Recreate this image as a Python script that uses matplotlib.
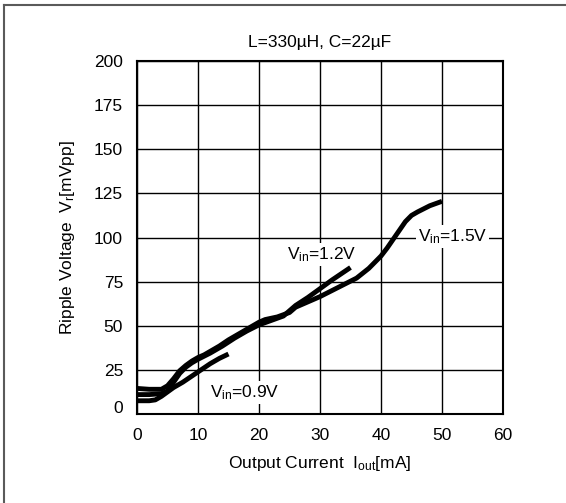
import numpy as np
import matplotlib
matplotlib.use("Agg")
import matplotlib.pyplot as plt
import matplotlib.transforms as mtrans
from matplotlib.lines import Line2D

plt.rcParams['font.family'] = ['Liberation Sans', 'DejaVu Sans']
plt.rcParams['mathtext.fontset'] = 'custom'
plt.rcParams['mathtext.rm'] = 'Liberation Sans'
plt.rcParams['mathtext.it'] = 'Liberation Sans:italic'

# ripple voltage vs output current
x_09 = [0, 1, 2, 3, 4, 5, 6, 7.5, 9, 10.5, 12, 13.5, 15]
y_09 = [7.5, 7.5, 7.5, 8, 10, 12.5, 15, 18, 21.5, 25, 28.5, 31.5, 34]

x_12 = [0, 2, 4, 5, 6, 7, 8, 9, 10, 12, 14, 16, 18, 20, 22, 24, 26, 28, 30, 32, 35]
y_12 = [11, 11, 11.5, 13, 18, 23, 26.5, 29, 31, 34.5, 38.5, 43, 47, 50.5, 53, 55.5,
        61.5, 66, 71, 76, 83]

x_15 = [0, 2, 4, 5, 6, 7, 8, 9, 10, 11, 12, 13.5, 15, 17, 19, 20, 21, 23, 25, 26,
        28, 30, 32, 34, 36, 38, 40, 41, 42, 43, 44, 45, 46, 48, 50]
y_15 = [14.5, 14, 14, 16, 20, 24.5, 27.5, 30, 32, 33.5, 35.5, 38.5, 42, 46, 50, 52,
        53.5, 55, 57.5, 60.5, 63.5, 66.5, 70, 73.5, 77, 82.5, 89.5, 94, 99, 104,
        109, 112.5, 114.5, 118, 120.5]

x_ticks = [0, 10, 20, 30, 40, 50, 60]
y_ticks = [0, 25, 50, 75, 100, 125, 150, 175, 200]

fig = plt.figure(figsize=(5.66, 5.03), dpi=100)
ax = fig.add_axes([137/566, 1 - 414/503, 366/566, 353/503])

ax.set_xlim(0, 60)
ax.set_ylim(0, 200)
ax.set_xticks(x_ticks)
ax.set_yticks(y_ticks)
ax.grid(True, color='black', linewidth=1.0, zorder=0.5)
ax.set_axisbelow(True)
ax.tick_params(length=0, labelsize=12.5, pad=10)
for s in ax.spines.values():
    s.set_linewidth(1.5)

# the "0" on the y axis sits a bit above the axis in the original
lbl0 = ax.get_yticklabels()[0]
lbl0.set_transform(lbl0.get_transform() + mtrans.ScaledTranslation(0, 7/100, fig.dpi_scale_trans))

for xs, ys in [(x_09, y_09), (x_12, y_12), (x_15, y_15)]:
    ax.plot(xs, ys, color='black', linewidth=3.5, solid_capstyle='butt', zorder=3)

box = dict(facecolor='white', edgecolor='none', pad=1.5)
ax.text(12, 12, r'V$_\mathregular{in}$=0.9V', fontsize=12.5, ha='left', va='center', bbox=box, zorder=2)
ax.text(24.6, 90.3, r'V$_\mathregular{in}$=1.2V', fontsize=12.5, ha='left', va='center', bbox=box, zorder=2)
ax.text(46, 100.5, r'V$_\mathregular{in}$=1.5V', fontsize=12.5, ha='left', va='center', bbox=box, zorder=2)

ax.set_title('L=330µH, C=22µF', fontsize=12.5, pad=10)
ax.set_xlabel(r'Output Current  I$_\mathregular{out}$[mA]', fontsize=12.5, labelpad=8)
ax.set_ylabel(r'Ripple Voltage  V$_\mathregular{r}$[mVpp]', fontsize=12.5, labelpad=12)

# grey frame on the top and left edge
fig.add_artist(Line2D([4/566, 4/566], [0, 1 - 5/503], color='#5a5a5a', linewidth=1.5))
fig.add_artist(Line2D([4/566, 1], [1 - 5/503, 1 - 5/503], color='#5a5a5a', linewidth=1.5))

fig.savefig('out.png', dpi=100)
